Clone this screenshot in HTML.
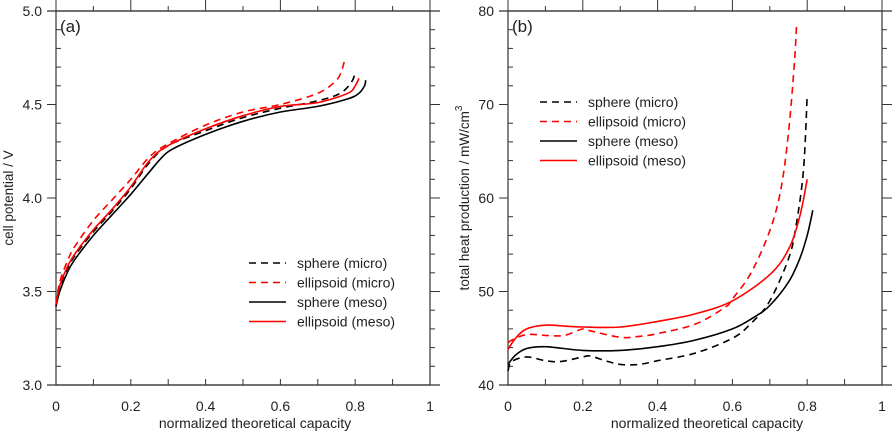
<!DOCTYPE html>
<html><head><meta charset="utf-8"><style>
body{margin:0;background:#fff}
svg{display:block;font-family:"Liberation Sans",sans-serif}
</style></head><body>
<svg id="chart" width="893" height="432"></svg>
<script>
const xTicks=[0,0.2,0.4,0.6,0.8,1];
const xTickLabels=["0","0.2","0.4","0.6","0.8","1"];
const aYTicks=[3.0,3.5,4.0,4.5,5.0];
const aYTickLabels=["3.0","3.5","4.0","4.5","5.0"];
const bYTicks=[40,50,60,70,80];
const bYTickLabels=["40","50","60","70","80"];
const seriesNames=["sphere (micro)","ellipsoid (micro)","sphere (meso)","ellipsoid (meso)"];
const aSphereMicro=[[0,3.42],[0.01,3.52],[0.03,3.62],[0.05,3.69],[0.1,3.82],[0.15,3.93],[0.2,4.05],[0.25,4.19],[0.3,4.28],[0.4,4.36],[0.5,4.43],[0.6,4.48],[0.7,4.52],[0.76,4.56],[0.79,4.62],[0.8,4.67]];
const aEllMicro=[[0,3.43],[0.01,3.55],[0.03,3.66],[0.05,3.74],[0.1,3.88],[0.15,3.99],[0.2,4.1],[0.25,4.22],[0.3,4.29],[0.4,4.39],[0.5,4.46],[0.6,4.5],[0.7,4.56],[0.75,4.63],[0.765,4.69],[0.772,4.74]];
const aSphereMeso=[[0,3.42],[0.01,3.5],[0.03,3.6],[0.05,3.67],[0.1,3.8],[0.15,3.91],[0.2,4.02],[0.25,4.14],[0.28,4.21],[0.31,4.26],[0.4,4.34],[0.5,4.41],[0.6,4.46],[0.7,4.49],[0.78,4.53],[0.81,4.56],[0.825,4.6],[0.828,4.63]];
const aEllMeso=[[0,3.43],[0.01,3.53],[0.03,3.63],[0.05,3.7],[0.1,3.83],[0.15,3.94],[0.2,4.06],[0.25,4.2],[0.3,4.28],[0.4,4.37],[0.5,4.44],[0.6,4.49],[0.7,4.51],[0.78,4.56],[0.8,4.6],[0.81,4.64]];
const bSphereMicro=[[0,41.5],[0.01,42.5],[0.05,43],[0.1,42.6],[0.14,42.5],[0.2,43],[0.22,43.1],[0.26,42.6],[0.3,42.2],[0.35,42.2],[0.4,42.6],[0.5,43.4],[0.6,45],[0.65,46.6],[0.7,49],[0.75,53.5],[0.77,57],[0.79,63],[0.8,71]];
const bEllMicro=[[0,44.5],[0.01,44.8],[0.05,45.4],[0.1,45.3],[0.15,45.3],[0.2,46],[0.22,45.8],[0.3,45.1],[0.35,45.2],[0.4,45.5],[0.5,46.5],[0.58,48.3],[0.6,49.2],[0.65,52],[0.7,56.5],[0.73,61],[0.75,67],[0.765,74],[0.772,78.8]];
const bSphereMeso=[[0,42.2],[0.02,43.2],[0.05,43.9],[0.1,44.1],[0.2,43.7],[0.3,43.7],[0.4,44.1],[0.5,44.8],[0.6,46],[0.66,47.3],[0.7,48.5],[0.75,51],[0.78,53.5],[0.8,56],[0.815,58.7]];
const bEllMeso=[[0,43.8],[0.02,45],[0.05,46],[0.1,46.4],[0.15,46.3],[0.2,46.2],[0.3,46.2],[0.4,46.8],[0.5,47.6],[0.6,49],[0.7,51.8],[0.75,54.5],[0.78,58],[0.8,62]];

const NS="http://www.w3.org/2000/svg";
const svg=document.getElementById('chart');
function mk(tag,attrs,parent){const e=document.createElementNS(NS,tag);for(const k in attrs)e.setAttribute(k,attrs[k]);(parent||svg).appendChild(e);return e;}
const styles=[{c:"#000",d:"7,5"},{c:"#f00",d:"7,5"},{c:"#000",d:""},{c:"#f00",d:""}];
function smooth(pts){
  let d="M"+pts[0][0].toFixed(1)+","+pts[0][1].toFixed(1);
  for(let i=0;i<pts.length-1;i++){
    const p0=pts[Math.max(i-1,0)],p1=pts[i],p2=pts[i+1],p3=pts[Math.min(i+2,pts.length-1)];
    const c1=[p1[0]+(p2[0]-p0[0])/6,p1[1]+(p2[1]-p0[1])/6];
    const c2=[p2[0]-(p3[0]-p1[0])/6,p2[1]-(p3[1]-p1[1])/6];
    d+=" C"+c1.map(v=>v.toFixed(1)).join(",")+" "+c2.map(v=>v.toFixed(1)).join(",")+" "+p2.map(v=>v.toFixed(1)).join(",");
  }
  return d;
}

function panel(o){
  const g=mk('g',{});
  
  
  const L=o.L,R=o.R,T=11,B=385;
  const sx=v=>L+(R-L)*v;
  const sy=v=>B-(B-T)*(v-o.y0)/(o.y1-o.y0);
  const fr=mk('rect',{x:L,y:T,width:R-L,height:B-T,fill:"none",stroke:"#333","stroke-width":1.2},g);
  
  mk('line',{x1:L-9,y1:T,x2:R+10,y2:T,stroke:"#333","stroke-width":1.2},g);
  mk('line',{x1:L-9,y1:B,x2:R+10,y2:B,stroke:"#333","stroke-width":1.2},g);
  for(let i=0;i<=10;i++){const x=sx(i/10);
    mk('line',{x1:x,y1:B,x2:x,y2:B-6,stroke:"#333"},g);
    mk('line',{x1:x,y1:T,x2:x,y2:T-(i%2==0?11:5),stroke:"#333"},g);}
  xTicks.forEach((v,i)=>{const t=mk('text',{x:sx(v),y:411,"font-size":14,"text-anchor":"middle",fill:"#222"},g);t.textContent=xTickLabels[i];
    });
  const step=(o.y1-o.y0)/20;
  for(let i=0;i<=20;i++){const y=sy(o.y0+i*step);const maj=i%5==0;
    mk('line',{x1:L,y1:y,x2:maj?L-9:L+5,y2:y,stroke:"#333"},g);
    mk('line',{x1:R,y1:y,x2:R+(maj?10:5),y2:y,stroke:"#333"},g);}
  o.yt.forEach((v,i)=>{const t=mk('text',{x:L-14,y:sy(v)+5,"font-size":14,"text-anchor":"end",fill:"#222"},g);t.textContent=o.ytl[i];
    });
  const xt=mk('text',{x:(L+R)/2+12,y:428,"font-size":14,"text-anchor":"middle",fill:"#222"},g);xt.textContent="normalized theoretical capacity";
  
  const yt=mk('text',{x:0,y:0,"font-size":13.5,"text-anchor":"middle",fill:"#222",transform:`translate(${o.ytx},${o.yty}) rotate(-90)`},g);
  
  yt.textContent=o.ytitle;
  if(o.sup){const s=mk('tspan',{"font-size":10,dy:-7},yt);s.textContent="3";}
  const pl=mk('text',{x:L+4,y:32,"font-size":17,fill:"#222"},g);pl.textContent=o.label;
  
  o.series.forEach((s,i)=>{
    const p=mk('path',{d:smooth(s.map(q=>[sx(q[0]),sy(q[1])])),fill:"none",stroke:styles[i].c,"stroke-width":1.6,"stroke-dasharray":styles[i].d,"stroke-linejoin":"round"},g);
    
    
  });
  seriesNames.forEach((n,i)=>{const y=o.legY+i*19.5;
    const ln=mk('line',{x1:o.legX,y1:y,x2:o.legX+37,y2:y,stroke:styles[i].c,"stroke-width":1.6,"stroke-dasharray":styles[i].d},g);
    
    const t=mk('text',{x:o.legX+48,y:y+5,"font-size":14,fill:"#222"},g);t.textContent=n;
    });
}
panel({name:'panel-a-cell-potential',L:56,R:430,y0:3,y1:5,yt:aYTicks,ytl:aYTickLabels,label:"(a)",ytitle:"cell potential / V",ytx:13,yty:198,
  series:[aSphereMicro,aEllMicro,aSphereMeso,aEllMeso],legX:249,legY:263});
panel({name:'panel-b-heat-production',L:508,R:882,y0:40,y1:80,yt:bYTicks,ytl:bYTickLabels,label:"(b)",ytitle:"total heat production / mW/cm",sup:true,ytx:469,yty:198,
  series:[bSphereMicro,bEllMicro,bSphereMeso,bEllMeso],legX:540,legY:102});
</script>
</body></html>
